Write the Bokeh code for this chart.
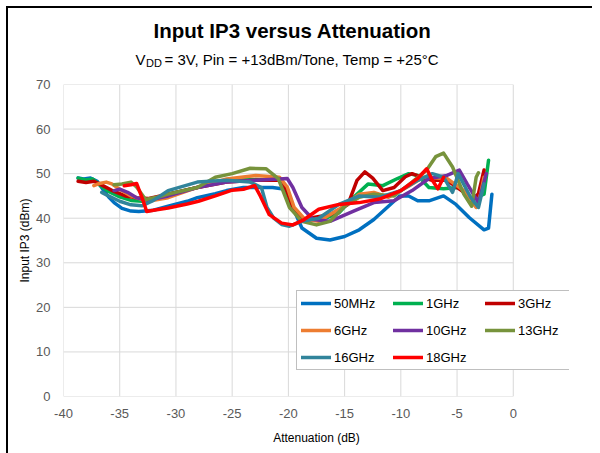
from bokeh.plotting import figure
from bokeh.models import Label, Range1d, FixedTicker
from bokeh.layouts import column
from bokeh.embed import file_html
from bokeh.resources import INLINE

# ---- data ----
labels = ["50MHz", "1GHz", "3GHz", "6GHz", "10GHz", "13GHz", "16GHz", "18GHz"]
colors = ["#0070C0", "#00B050", "#C00000", "#ED7D31", "#7030A0", "#77933C", "#31849B", "#FF0000"]

x_50MHz = [-38.7, -38.2, -37.6, -37.0, -36.5, -36.0, -35.5, -34.8, -34.0, -33.3, -32.0, -30.7, -29.0, -28.1,
           -26.5, -25.5, -24.0, -22.9, -21.4, -20.6, -20.0, -19.6, -18.8, -17.5, -16.3, -15.0, -13.7, -12.4,
           -11.1, -10.1, -9.3, -8.5, -7.5, -6.2, -5.1, -3.9, -2.6, -2.2, -1.9]
y_50MHz = [49.0, 48.8, 49.0, 48.3, 46.5, 44.8, 43.5, 42.2, 41.6, 41.5, 41.8, 42.7, 43.8, 44.6,
           45.5, 46.2, 46.9, 46.9, 46.9, 46.6, 45.5, 42.4, 37.8, 35.5, 35.1, 35.9, 37.4, 39.7,
           42.7, 45.0, 45.0, 43.9, 43.9, 45.0, 43.1, 40.1, 37.4, 37.8, 45.4]

x_1GHz = [-38.7, -38.0, -37.4, -36.8, -36.0, -35.0, -34.0, -33.0, -32.0, -30.7, -28.1, -25.5, -22.9, -20.8,
          -20.2, -19.6, -18.8, -17.5, -16.5, -15.5, -14.2, -12.9, -11.6, -10.3, -9.3, -8.5, -7.5, -6.2,
          -4.9, -3.6, -2.6, -2.2]
y_1GHz = [49.0, 48.6, 48.8, 47.5, 46.0, 44.8, 44.0, 43.8, 44.2, 45.4, 46.9, 48.5, 48.7, 48.5,
          46.0, 42.0, 39.3, 39.6, 40.2, 41.2, 44.7, 47.7, 47.3, 48.9, 50.0, 49.6, 46.9, 46.6,
          46.9, 44.3, 45.4, 53.0]

x_3GHz = [-38.7, -38.0, -37.3, -36.5, -35.5, -34.5, -33.5, -32.5, -30.7, -28.1, -25.5, -22.9, -20.8, -20.2,
          -19.6, -18.8, -17.5, -16.3, -14.7, -13.9, -13.2, -12.5, -11.6, -10.6, -9.6, -9.0, -8.2, -7.2,
          -5.9, -4.6, -3.6, -3.1, -2.6]
y_3GHz = [48.3, 48.0, 48.3, 47.3, 46.0, 45.0, 44.6, 44.4, 45.4, 46.9, 48.1, 48.5, 48.5, 46.5,
          42.5, 39.7, 40.3, 40.8, 43.1, 48.5, 50.4, 49.0, 46.2, 46.9, 49.3, 50.0, 49.2, 48.5,
          48.5, 46.2, 44.3, 45.5, 50.8]

x_6GHz = [-37.3, -36.8, -36.2, -35.7, -35.0, -34.0, -33.0, -32.5, -30.7, -28.1, -25.5, -22.9, -20.8, -20.1,
          -19.5, -18.5, -17.3, -15.5, -13.7, -12.4, -11.1, -9.5, -8.0, -5.9, -4.4, -3.3, -2.9, -2.6]
y_6GHz = [47.3, 47.8, 48.1, 47.7, 46.5, 45.0, 44.2, 43.8, 44.6, 46.9, 48.8, 49.6, 49.2, 47.0,
          42.5, 39.7, 39.3, 42.0, 45.4, 45.8, 44.7, 46.9, 49.2, 48.9, 46.2, 42.4, 45.5, 49.2]

x_10GHz = [-35.5, -35.0, -34.3, -33.5, -32.5, -30.7, -28.1, -25.5, -22.9, -20.8, -20.1, -19.6, -18.8, -17.8,
           -16.3, -14.2, -12.4, -10.6, -9.0, -7.5, -5.9, -4.8, -4.1, -3.1, -2.4]
y_10GHz = [46.2, 46.5, 45.8, 44.6, 44.0, 45.0, 46.9, 48.1, 48.5, 48.8, 48.9, 46.9, 42.4, 39.7,
           39.3, 41.6, 43.5, 43.9, 46.2, 48.9, 49.6, 50.8, 47.7, 43.5, 50.0]

x_13GHz = [-35.5, -34.8, -34.0, -33.5, -32.7, -31.5, -30.7, -28.1, -26.5, -25.0, -23.4, -22.0, -20.9, -19.9,
           -18.8, -17.5, -16.3, -15.0, -13.7, -12.4, -10.6, -9.0, -7.7, -6.9, -6.2, -5.4, -4.4, -3.7,
           -3.3, -3.1]
y_13GHz = [47.5, 47.7, 48.1, 47.0, 44.2, 44.8, 45.4, 46.9, 49.2, 50.0, 51.2, 51.1, 48.9, 42.4,
           39.3, 38.5, 39.3, 42.7, 44.7, 45.4, 45.0, 48.1, 50.8, 53.8, 54.6, 51.5, 45.4, 42.7,
           49.2, 50.2]

x_16GHz = [-36.6, -36.0, -35.0, -34.0, -33.0, -32.0, -30.7, -28.1, -25.5, -23.4, -22.4, -21.9, -21.3, -20.6,
           -19.9, -18.8, -17.3, -15.5, -13.7, -11.9, -10.0, -8.5, -7.2, -6.2, -5.4, -4.9, -3.8, -3.1, -2.6]
y_16GHz = [45.8, 45.0, 43.8, 43.0, 42.8, 44.0, 46.2, 48.1, 48.5, 48.1, 46.9, 42.4, 40.0, 38.6,
           38.2, 39.3, 40.0, 43.1, 45.0, 44.7, 46.2, 48.5, 50.0, 49.2, 45.8, 50.0, 44.7, 42.4, 47.7]

x_18GHz = [-34.6, -34.0, -33.5, -33.0, -32.6, -32.0, -30.7, -29.0, -28.0, -26.5, -25.0, -24.0, -23.0, -22.5,
           -21.7, -20.6, -19.6, -18.6, -17.3, -15.5, -13.7, -11.9, -10.0, -8.5, -7.7, -7.2, -6.7, -6.2]
y_18GHz = [47.3, 47.5, 47.8, 44.5, 41.5, 41.8, 42.3, 43.2, 43.8, 45.0, 46.3, 46.5, 47.3, 45.0,
           40.8, 38.9, 38.5, 39.7, 42.0, 43.1, 43.5, 44.3, 46.2, 48.9, 51.1, 48.5, 46.6, 49.2]

xs = [x_50MHz, x_1GHz, x_3GHz, x_6GHz, x_10GHz, x_13GHz, x_16GHz, x_18GHz]
ys = [y_50MHz, y_1GHz, y_3GHz, y_6GHz, y_10GHz, y_13GHz, y_16GHz, y_18GHz]

x_ticks = [-40, -35, -30, -25, -20, -15, -10, -5, 0]
y_ticks = [0, 10, 20, 30, 40, 50, 60, 70]

title_text = "Input IP3 versus Attenuation"
sub_v, sub_dd, sub_rest = "V", "DD", " = 3V, Pin = +13dBm/Tone, Temp = +25°C"

FONT = "Liberation Sans"
GRID = "#D9D9D9"
TICKC = "#595959"
W = 584
BL = 55          # left border of the plot frame
FW = 506         # frame width
BR = W - BL - FW

# ---- header (title + subtitle); its frame is aligned with the main plot frame ----
HH = 68
head = figure(width=W, height=HH, output_backend="svg", toolbar_location=None,
              x_axis_type=None, y_axis_type=None,
              x_range=Range1d(BL, BL + FW), y_range=Range1d(0, HH),
              min_border=0, min_border_left=BL, min_border_right=BR)
head.grid.visible = False
head.outline_line_color = None
head.add_layout(Label(x=284, y=46, text=title_text, text_align="center",
                      text_baseline="middle", text_font=FONT, text_font_size="20.5px",
                      text_font_style="bold", text_color="#000000"))
head.add_layout(Label(x=127, y=17, text=sub_v, text_align="left", text_baseline="alphabetic",
                      text_font=FONT, text_font_size="15px", text_color="#000000"))
head.add_layout(Label(x=137.5, y=13.5, text=sub_dd, text_align="left", text_baseline="alphabetic",
                      text_font=FONT, text_font_size="11px", text_color="#000000"))
head.add_layout(Label(x=156, y=17, text=sub_rest, text_align="left",
                      text_baseline="alphabetic", text_font=FONT, text_font_size="15px",
                      text_color="#000000"))

# ---- main plot ----
p = figure(width=W, height=377, output_backend="svg", toolbar_location=None,
           x_range=Range1d(-40, 5), y_range=Range1d(0, 70),
           min_border_left=BL, min_border_right=BR, min_border_top=8, min_border_bottom=57)
p.xgrid.visible = False
p.ygrid.visible = False
p.outline_line_color = None

# grid lines limited to the data area (-40..0, 0..70)
p.segment(x0=x_ticks, y0=[y_ticks[0]] * len(x_ticks), x1=x_ticks, y1=[y_ticks[-1]] * len(x_ticks),
          line_color=GRID, line_width=1)
p.segment(x0=[x_ticks[0]] * len(y_ticks), y0=y_ticks, x1=[x_ticks[-1]] * len(y_ticks), y1=y_ticks,
          line_color=GRID, line_width=1)

for x, y, c, lab in zip(xs, ys, colors, labels):
    p.line(x, y, line_color=c, line_width=3.5, line_join="round", line_cap="round", legend_label=lab)

p.xaxis.ticker = FixedTicker(ticks=x_ticks)
p.yaxis.ticker = FixedTicker(ticks=y_ticks)
p.xaxis.major_label_overrides = {t: str(t) for t in x_ticks}
p.yaxis.major_label_overrides = {t: str(t) for t in y_ticks}
for ax in (p.xaxis[0], p.yaxis[0]):
    ax.axis_line_color = None
    ax.major_tick_line_color = None
    ax.minor_tick_line_color = None
    ax.major_label_text_font = FONT
    ax.major_label_text_font_size = "13px"
    ax.major_label_text_color = TICKC
    ax.axis_label_text_font = FONT
    ax.axis_label_text_font_size = "12px"
    ax.axis_label_text_font_style = "normal"
    ax.axis_label_text_color = "#000000"
p.xaxis.axis_label = "Attenuation (dB)"
p.yaxis.axis_label = "Input IP3 (dBm)"
p.xaxis.major_label_standoff = 6
p.yaxis.major_label_standoff = 7
p.xaxis.axis_label_standoff = 10
p.yaxis.axis_label_standoff = 1

leg = p.legend[0]
leg.orientation = "horizontal"
leg.ncols = 3
leg.location = (233, 26)
leg.label_text_font = FONT
leg.label_text_font_size = "13px"
leg.label_text_color = "#000000"
leg.glyph_width = 30
leg.glyph_height = 16
leg.label_height = 16
leg.label_width = 48
leg.label_standoff = 3
leg.spacing = 11
leg.padding = 4
leg.margin = 0
leg.border_line_color = "#808080"
leg.border_line_width = 1
leg.background_fill_alpha = 1.0

layout = column(head, p, spacing=0)
layout.styles = {"margin-left": "6px", "margin-top": "6px",
                 "border-left": "2px solid black", "border-top": "2px solid black"}

open("out.html", "w").write(file_html(layout, INLINE))
